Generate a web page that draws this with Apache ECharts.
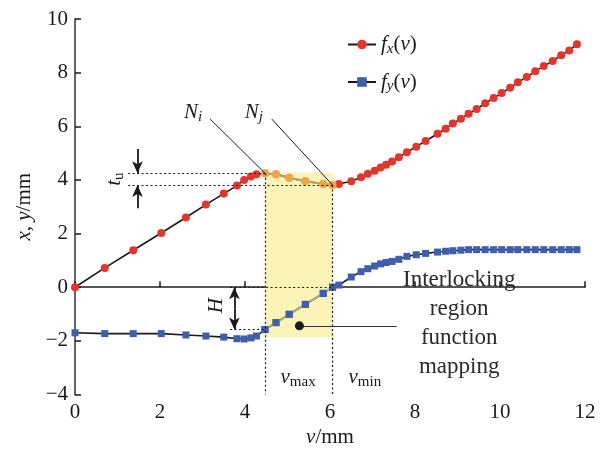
<!DOCTYPE html>
<html><head><meta charset="utf-8">
<script src="https://cdn.jsdelivr.net/npm/echarts@6/dist/echarts.min.js"></script>
<style>html,body{margin:0;padding:0;background:#fff}#c{width:605px;height:455px}</style>
</head><body><div id="c"></div>
<script>
// ---- data ----
const v  = [0,0.70,1.37,2.03,2.61,3.08,3.50,3.81,3.98,4.14,4.27,4.47,4.73,5.04,5.42,5.84,6.06,6.21,6.50,6.73,6.89,7.05,7.19,7.32,7.46,7.62,7.81,8.03,8.25,8.53,8.72,8.89,9.08,9.26,9.45,9.65,9.85,10.04,10.24,10.42,10.63,10.83,11.03,11.24,11.44,11.63,11.81];
const fx = [0,0.72,1.38,2.02,2.60,3.08,3.49,3.79,4.00,4.13,4.21,4.25,4.21,4.08,3.95,3.85,3.81,3.85,3.95,4.10,4.23,4.34,4.46,4.57,4.69,4.85,5.03,5.24,5.45,5.72,5.91,6.10,6.28,6.47,6.64,6.86,7.05,7.24,7.44,7.64,7.84,8.05,8.25,8.43,8.65,8.83,9.06];
const fy = [-1.70,-1.73,-1.73,-1.73,-1.78,-1.82,-1.86,-1.92,-1.93,-1.89,-1.82,-1.58,-1.32,-1.01,-0.64,-0.23,0.00,0.08,0.38,0.58,0.69,0.79,0.87,0.92,0.96,1.04,1.15,1.21,1.26,1.31,1.34,1.36,1.38,1.40,1.40,1.40,1.40,1.40,1.40,1.40,1.40,1.40,1.40,1.40,1.40,1.40,1.40];
const xTicks = [0,2,4,6,8,10,12];
const yTicks = [-4,-2,0,2,4,6,8,10];
const seriesNames = ['fx','fy'];
const regionStart = 11, regionEnd = 16;   // indices of N_i and N_j

// annotation anchors (data units)
const vMax = v[regionStart], vMin = v[regionEnd];
const yNi = fx[regionStart], yNj = fx[regionEnd];
const yH = fy[regionStart];
const regionTop = 4.28, regionBottom = -1.87;

// ---- styles ----
const FONT = "'Liberation Serif','DejaVu Serif',serif";
const RED='#e5352b', ORANGE='#f3a445', BLUE='#3e5eae', SEG='#aca67c', YELLOW='#fbf4b6', INK='#1a1a1a';
const rich = {
  i:{fontFamily:FONT,fontStyle:'italic',fontSize:21,color:INK},
  n:{fontFamily:FONT,fontSize:21,color:INK},
  si:{fontFamily:FONT,fontStyle:'italic',fontSize:15,color:INK,padding:[9,0,0,0]},
  sn:{fontFamily:FONT,fontSize:15,color:INK,padding:[9,0,0,0]},
  t:{fontFamily:FONT,fontSize:23,color:'#2a2a2a',lineHeight:29,align:'center'}
};

const inRegion = i => i >= regionStart && i <= regionEnd;
const fxData = v.map((x,i)=> inRegion(i) ? {value:[x,fx[i]], itemStyle:{color:ORANGE}} : [x,fx[i]]);
const fyData = v.map((x,i)=> [x,fy[i]]);
const fxSeg = v.slice(regionStart, regionEnd+1).map((x,k)=>[x, fx[regionStart+k]]);
const fySeg = v.slice(regionStart, regionEnd+1).map((x,k)=>[x, fy[regionStart+k]]);

const dotted = {color:INK, width:1.2, type:[2,2.5]};
const solid  = {color:INK, width:1, type:'solid'};
const arrowLine = {color:INK, width:1.8, type:'solid'};
function seg(a,b,style,s1,s2){
  return [{coord:a, symbol:s1||'none', lineStyle:style}, {coord:b, symbol:s2||'none'}];
}
function txt(x,y,fmt,rot){
  return {coord:[x,y], symbol:'circle', symbolSize:1, itemStyle:{color:'rgba(0,0,0,0)'},
    label:{show:true, position:'inside', formatter:fmt, rich:rich, rotate:rot||0}};
}

const chart = echarts.init(document.getElementById('c'), null, {renderer:'canvas'});
chart.setOption({
  animation:false,
  backgroundColor:'#fff',
  grid:{left:75, right:20, top:19, bottom:60.5},
  legend:{
    data:seriesNames, orient:'vertical', left:342, top:29, itemGap:15,
    itemWidth:28, itemHeight:12,
    formatter: n => n==='fx' ? '{i|f}{si|x}{n|(}{i|v}{n|)}' : '{i|f}{si|y}{n|(}{i|v}{n|)}',
    textStyle:{rich:rich}
  },
  xAxis:{
    type:'value', min:xTicks[0], max:xTicks[xTicks.length-1], interval:2,
    name:'{i|v}{n|/mm}', nameLocation:'middle', nameGap:30, nameTextStyle:{rich:rich},
    axisLine:{lineStyle:{color:'#555', width:1.8}},
    axisTick:{inside:true, length:6, lineStyle:{color:INK, width:1.5}},
    axisLabel:{fontFamily:FONT, fontSize:21, color:INK, margin:7},
    splitLine:{show:false}
  },
  yAxis:{
    type:'value', min:yTicks[0], max:yTicks[yTicks.length-1], interval:2,
    name:'{i|x}{n|, }{i|y}{n|/mm}', nameLocation:'middle', nameGap:40, nameTextStyle:{rich:rich},
    axisLine:{show:true, lineStyle:{color:'#555', width:1.8}},
    axisTick:{show:true, inside:true, length:6, lineStyle:{color:INK, width:1.5}},
    axisLabel:{fontFamily:FONT, fontSize:21, color:INK, margin:7, formatter: val => String(val).replace('-','\u2212')},
    splitLine:{show:false}
  },
  series:[
    { name:'region', type:'line', data:[], z:0, silent:true,
      markArea:{silent:true, itemStyle:{color:YELLOW, opacity:1}, label:{show:false},
        data:[[{coord:[vMax, regionTop]}, {coord:[vMin, regionBottom]}]] } },
    { name:'fx', type:'line', data:fxData, z:3, symbol:'circle', symbolSize:8,
      itemStyle:{color:RED}, lineStyle:{color:INK, width:1.6} },
    { name:'fy', type:'line', data:fyData, z:3, symbol:'rect', symbolSize:7,
      itemStyle:{color:BLUE}, lineStyle:{color:INK, width:1.6} },
    { name:'fxSeg', type:'line', data:fxSeg, z:4, symbol:'circle', symbolSize:8,
      itemStyle:{color:ORANGE}, lineStyle:{color:SEG, width:2.2} },
    { name:'fySeg', type:'line', data:fySeg, z:4, symbol:'rect', symbolSize:7,
      itemStyle:{color:BLUE}, lineStyle:{color:SEG, width:2.2} },
    { name:'annot', type:'line', data:[], z:5, silent:true,
      markLine:{silent:true, animation:false, symbol:['none','none'], symbolSize:[8,12], label:{show:false},
        emphasis:{disabled:true},
        data:[
          seg([vMax, yNi],[vMax, yTicks[0]], dotted),
          seg([vMin, yNj],[vMin, yTicks[0]], dotted),
          seg([1.25, yNi],[vMax, yNi], dotted),
          seg([1.25, yNj],[vMin, yNj], dotted),
          seg([3.65, 0],[vMin, 0], dotted),
          seg([3.65, yH],[vMax, yH], dotted),
          seg([1.47, 5.15],[1.47, yNi], arrowLine, 'none','arrow'),
          seg([1.47, 2.94],[1.47, yNj], arrowLine, 'none','arrow'),
          seg([3.75, -0.79],[3.75, 0], arrowLine, 'none','arrow'),
          seg([3.75, -0.79],[3.75, yH], arrowLine, 'none','arrow'),
          seg([3.18, 6.27],[vMax, yNi], solid),
          seg([4.63, 6.27],[vMin, yNj], solid),
          seg([5.28, -1.44],[7.57, -1.44], {color:'#333', width:1.2, type:'solid'})
        ]},
      markPoint:{silent:true, animation:false,
        data:[
          {coord:[5.28,-1.44], symbol:'circle', symbolSize:9, itemStyle:{color:INK}, label:{show:false}},
          txt(2.78, 6.50, '{i|N}{si|i}'),
          txt(4.21, 6.50, '{i|N}{si|j}'),
          txt(0.94, 4.03, '{i|t}{sn|u}', 90),
          txt(3.32, -0.69, '{i|H}', 90),
          txt(5.25, -3.35, '{i|v}{sn|max}'),
          txt(6.82, -3.35, '{i|v}{sn|min}'),
          txt(9.04, -1.36, '{t|Interlocking}\n{t|region}\n{t|function}\n{t|mapping}')
        ]}
    }
  ]
});
</script></body></html>
